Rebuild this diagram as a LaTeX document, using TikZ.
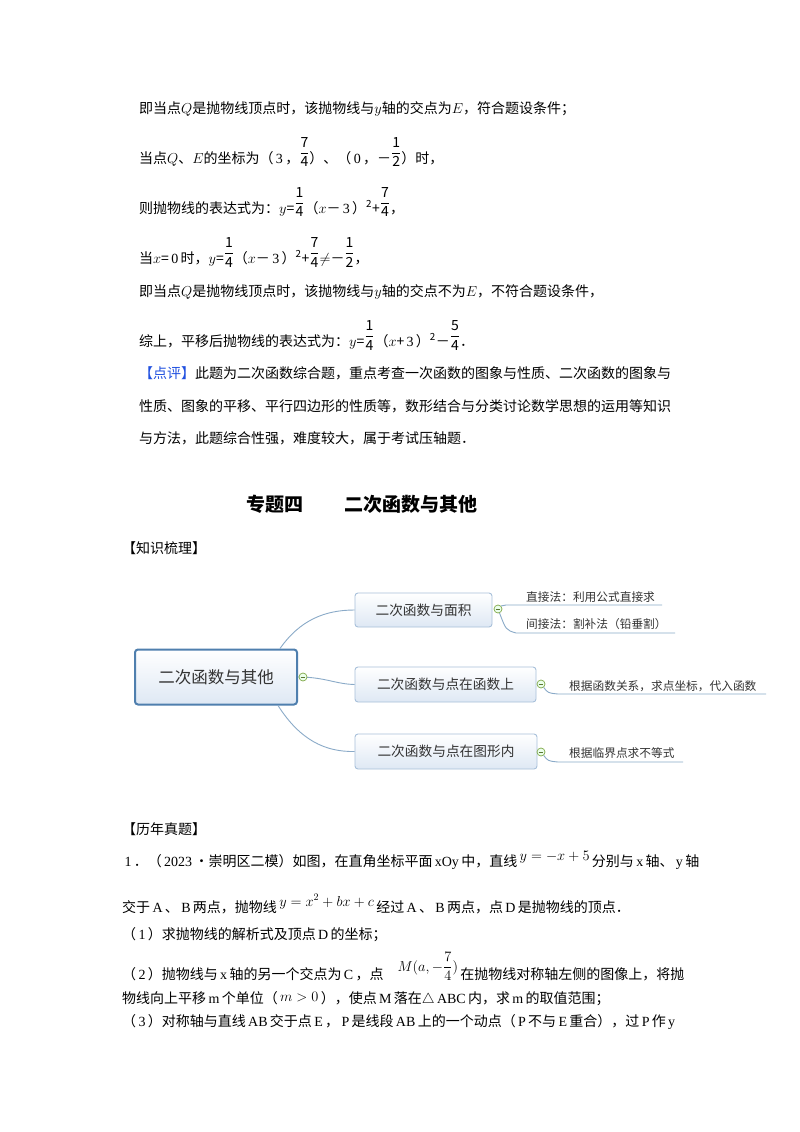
\documentclass[tikz,border=0pt]{standalone}
\usepackage{fontspec}
\setmainfont{Noto Sans CJK SC}
\newfontfamily\lat{Liberation Serif}
\newfontfamily\cjk{Noto Sans CJK SC}
\usepackage{amsmath}
\newcommand{\fr}[2]{\raisebox{0.42em}{$\dfrac{\mathrm{#1}}{\mathrm{#2}}$}}
\newcommand{\rr}[1]{\,{\lat #1}\,}
\definecolor{bord}{HTML}{A8C0DA}
\definecolor{rootb}{HTML}{4F7FAE}
\definecolor{cn}{HTML}{8AAAC8}
\definecolor{tg}{HTML}{7FA848}
\begin{document}
\begin{tikzpicture}[x=1pt,y=-1pt,
  txt/.style={anchor=base west,inner sep=0pt,font=\fontsize{14}{16}\selectfont},
  box/.style={draw=bord,rounded corners=3pt,line width=0.9pt,top color=white,bottom color={rgb,255:red,222;green,232;blue,244},inner sep=0pt,font=\fontsize{13.7}{15}\selectfont\color{black!80}},
  conn/.style={draw=cn,line width=0.9pt},
  tog/.style={circle,draw=tg,fill=green!8!white,line width=0.7pt,minimum size=8pt,inner sep=0pt,
    path picture={\draw[tg!70!black,line width=0.7pt] ([xshift=-2.3pt]path picture bounding box.center) -- ([xshift=2.3pt]path picture bounding box.center);}},
  subt/.style={anchor=base west,inner sep=0pt,font=\fontsize{11.7}{13}\selectfont\color{black!80}}]
\useasboundingbox[fill=white] (0,0) rectangle (800,1132);

\node[txt] (l1) at (139,113) {即当点$Q$是抛物线顶点时，该抛物线与$y$轴的交点为$E$，符合题设条件；};
\node[txt] (l2) at (139,163) {当点$Q$、$E$的坐标为（\rr{3}，\fr74）、（\rr{0}，－\fr12）时，};
\node[txt] (l3) at (139,213) {则抛物线的表达式为：$y$=\fr14（$x$－\rr{3}）$^{\mathrm{2}}$+\fr74，};
\node[txt] (l4) at (139,263) {当$x$=\rr{0}时，$y$=\fr14（$x$－\rr{3}）$^{\mathrm{2}}$+\fr74$\neq$－\fr12，};
\node[txt] (l5) at (139,296) {即当点$Q$是抛物线顶点时，该抛物线与$y$轴的交点不为$E$，不符合题设条件，};
\node[txt] (l6) at (139,346) {综上，平移后抛物线的表达式为：$y$=\fr14（$x$+\rr{3}）$^{\mathrm{2}}$－\fr54．};
\node[txt] (p1) at (139,378) {{\color[HTML]{2050E0}【点评】}此题为二次函数综合题，重点考查一次函数的图象与性质、二次函数的图象与};
\node[txt] (p2) at (139,411) {性质、图象的平移、平行四边形的性质等，数形结合与分类讨论数学思想的运用等知识};
\node[txt] (p3) at (139,443) {与方法，此题综合性强，难度较大，属于考试压轴题．};

\node[anchor=base,inner sep=0pt,font=\fontsize{19}{21}\selectfont\bfseries] (title) at (362,511) {专题四\hspace{2.2em}二次函数与其他};
\node[txt] (h1) at (122,553) {【知识梳理】};

% mind map
\node[box,draw=rootb,line width=2pt,minimum width=162pt,minimum height=55pt,font=\fontsize{16.5}{18}\selectfont\color{black!80}] (root) at (216,677) {二次函数与其他};
\node[box,minimum width=137pt,minimum height=34pt] (n1) at (423.5,610) {二次函数与面积};
\node[box,minimum width=181pt,minimum height=35pt] (n2) at (445.5,684.5) {二次函数与点在函数上};
\node[box,minimum width=182pt,minimum height=35pt] (n3) at (446,751.5) {二次函数与点在图形内};

\draw[conn] ([xshift=146pt]root.north west) .. controls (300,620) and (325,610) .. (n1.west);
\draw[conn] (root.east) .. controls (325,677) and (335,684) .. (n2.west);
\draw[conn] ([xshift=144pt]root.south west) .. controls (300,740) and (325,752) .. (n3.west);

\coordinate (s1a) at (506,605); \coordinate (s1b) at (662,605);
\coordinate (s2a) at (516,633); \coordinate (s2b) at (675,633);
\coordinate (s3a) at (558,694); \coordinate (s3b) at (766,694);
\coordinate (s4a) at (558,762); \coordinate (s4b) at (683,762);
\node[tog] (t0) at (303,677) {};
\node[tog] (t1) at (498,609) {};
\node[tog] (t2) at (541,684) {};
\node[tog] (t3) at (541,752) {};
\draw[conn] (t1) .. controls (501,606) .. (s1a) -- (s1b);
\draw[conn] (t1) .. controls (506,630) .. (s2a) -- (s2b);
\draw[conn] (t2) .. controls (548,693) .. (s3a) -- (s3b);
\draw[conn] (t3) .. controls (548,761) .. (s4a) -- (s4b);
\node[subt] (a1) at (526,601) {直接法：利用公式直接求};
\node[subt] (a2) at (526,628) {间接法：割补法（铅垂割）};
\node[subt] (a3) at (569,690) {根据函数关系，求点坐标，代入函数};
\node[subt] (a4) at (569,757) {根据临界点求不等式};

\node[txt] (h2) at (122,834) {【历年真题】};
\node[txt] (q1) at (122,866) {\rr{1}．（\rr{2023}•崇明区二模）如图，在直角坐标平面\rr{xOy}中，直线\,\raisebox{6pt}{$y=-x+5$}\,分别与\rr{x}轴、\rr{y}轴};
\node[txt] (q2) at (122,912) {交于\rr{A}、\rr{B}两点，抛物线\,\raisebox{6pt}{$y=x^2+bx+c$}\,经过\rr{A}、\rr{B}两点，点\rr{D}是抛物线的顶点．};
\node[txt] (q3) at (122,939) {（\rr{1}）求抛物线的解析式及顶点\rr{D}的坐标；};
\node[txt] (q4) at (122,979) {（\rr{2}）抛物线与\rr{x}轴的另一个交点为\rr{C}，点\quad\raisebox{8pt}{$M(a,-\dfrac{7}{4})$}\,在抛物线对称轴左侧的图像上，将抛};
\node[txt] (q5) at (122,1003) {物线向上平移\rr{m}个单位（\,\raisebox{2pt}{$m>0$}\,），使点\rr{M}落在$\triangle$\rr{ABC}内，求\rr{m}的取值范围；};
\node[txt] (q6) at (122,1026) {（\rr{3}）对称轴与直线\rr{AB}交于点\rr{E}，\rr{P}是线段\rr{AB}上的一个动点（\rr{P}不与\rr{E}重合），过\rr{P}作\rr{y}};
\end{tikzpicture}
\end{document}
